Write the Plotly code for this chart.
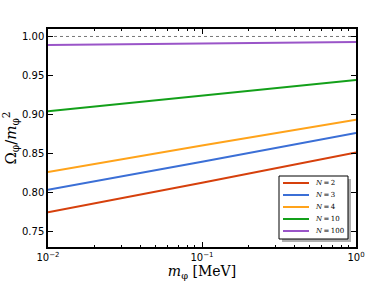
import plotly.graph_objects as go

m_phi = [0.01, 0.1, 1.0]
N_vals = ["2", "3", "4", "10", "100"]
omega = [
    [0.774, 0.812, 0.851],
    [0.803, 0.839, 0.876],
    [0.826, 0.860, 0.893],
    [0.904, 0.924, 0.944],
    [0.989, 0.991, 0.993],
]
colors = ["#d6400c", "#3b6fd6", "#ffa31a", "#13a01a", "#9a55c8"]
x_ticks = [0.01, 0.1, 1.0]
x_ticktext = ["10<sup>−2</sup>", "10<sup>−1</sup>", "10<sup>0</sup>"]
y_ticks = [0.75, 0.80, 0.85, 0.90, 0.95, 1.00]
minor_x = [k * 10**e for e in (-2, -1) for k in range(2, 10)]

W, H = 374, 291
L, R, T, B = 48, 18, 29, 44
pw, ph = W - L - R, H - T - B

def px2paper(x, y):
    return (x - L) / pw, (H - B - y) / ph

fig = go.Figure()
fig.add_trace(go.Scatter(x=[0.01, 1.0], y=[1.0, 1.0], mode="lines",
                         line=dict(color="#777777", width=1, dash="dot"),
                         showlegend=False))
for n, ys, c in zip(N_vals, omega, colors):
    fig.add_trace(go.Scatter(x=m_phi, y=ys, mode="lines",
                             line=dict(color=c, width=2),
                             name=f"<i>N</i> = {n}", showlegend=False))

# custom compact legend (box + shadow + entries)
bx0, by0, bx1, by1 = 279, 176, 348, 239
sx0, sy0 = px2paper(bx0 + 3, by0 + 3)
sx1, sy1 = px2paper(bx1 + 3, by1 + 3)
fig.add_shape(type="rect", xref="paper", yref="paper", x0=sx0, y0=sy1, x1=sx1, y1=sy0,
              fillcolor="#b0b0b0", line=dict(width=0), layer="above")
lx0, ly0 = px2paper(bx0, by0)
lx1, ly1 = px2paper(bx1, by1)
fig.add_shape(type="rect", xref="paper", yref="paper", x0=lx0, y0=ly1, x1=lx1, y1=ly0,
              fillcolor="white", line=dict(color="black", width=1), layer="above")
for i, (n, c) in enumerate(zip(N_vals, colors)):
    yy = 183 + 12 * i
    a0, yp = px2paper(283, yy)
    a1, _ = px2paper(309, yy)
    tx, _ = px2paper(313, yy)
    fig.add_shape(type="line", xref="paper", yref="paper", x0=a0, x1=a1, y0=yp, y1=yp,
                  line=dict(color=c, width=2), layer="above")
    fig.add_annotation(xref="paper", yref="paper", x=tx, y=yp, xanchor="left",
                       yanchor="middle", showarrow=False,
                       text=f"<i>N</i>\u2009=\u2009{n}",
                       font=dict(family="DejaVu Serif", size=7, color="black"))

axis_common = dict(showline=True, linecolor="black", linewidth=1.5, mirror="ticks",
                   ticks="inside", tickcolor="black", showgrid=False, zeroline=False,
                   automargin=False,
                   tickfont=dict(family="DejaVu Sans", size=10, color="black"))
fig.update_xaxes(type="log", range=[-2, 0], tickvals=x_ticks, ticktext=x_ticktext,
                 ticklen=5,
                 minor=dict(tickvals=minor_x, ticks="inside", ticklen=2.5, tickcolor="black"),
                 title=dict(text="<i>m</i><sub>φ</sub> [MeV]", standoff=4,
                            font=dict(family="DejaVu Serif", size=14, color="black")),
                 **axis_common)
fig.update_yaxes(range=[0.7295, 1.0096], tickvals=y_ticks,
                 ticktext=[f"{v:.2f}" for v in y_ticks], ticklen=5,
                 title=dict(text="Ω<sub>φ</sub>/<i>m</i><sub>φ</sub><sup>2</sup>", standoff=6,
                            font=dict(family="DejaVu Serif", size=15, color="black")),
                 **axis_common)
fig.update_layout(
    width=W, height=H,
    margin=dict(l=L, r=R, t=T, b=B),
    plot_bgcolor="white", paper_bgcolor="white",
    showlegend=False,
)
fig.write_html("out.html", config={"displayModeBar": False},
               post_script="document.body.style.margin='0';document.body.style.overflow='hidden';")
